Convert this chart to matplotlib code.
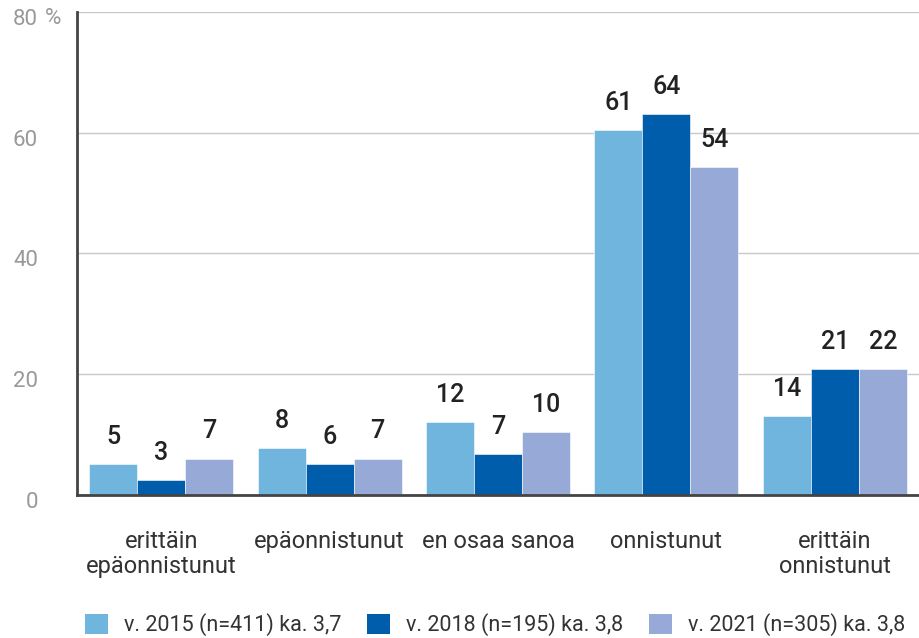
import matplotlib
matplotlib.use("Agg")
import matplotlib.pyplot as plt
import matplotlib.transforms as mtransforms
from matplotlib.patches import Patch
import numpy as np

plt.rcParams["font.family"] = ["Roboto", "DejaVu Sans"]

# ---------------------------------------------------------
# Donnees
# ---------------------------------------------------------
categories = ["erittäin\nepäonnistunut", "epäonnistunut", "en osaa sanoa",
              "onnistunut", "erittäin\nonnistunut"]
series_names = ["v. 2015 (n=411) ka. 3,7", "v. 2018 (n=195) ka. 3,8",
                "v. 2021 (n=305) ka. 3,8"]
# hauteurs des barres
v2015 = [5.1, 7.8, 12.1, 60.4, 13.1]
v2018 = [2.5, 5.1, 6.8, 63.1, 20.9]
v2021 = [6.0, 6.0, 10.4, 54.3, 20.9]
# etiquettes affichees au-dessus des barres
lab2015 = ["5", "8", "12", "61", "14"]
lab2018 = ["3", "6", "7", "64", "21"]
lab2021 = ["7", "7", "10", "54", "22"]
yticks = [0, 20, 40, 60, 80]

colors = ["#6fb5dd", "#005dab", "#97a9d6"]

# ---------------------------------------------------------
# Graphique
# ---------------------------------------------------------
fig = plt.figure(figsize=(9.19, 6.38), dpi=100)
ax = fig.add_axes([77 / 919, 143 / 638, 842 / 919, 483 / 638])

x = np.arange(len(categories))
width = 0.285
series = [v2015, v2018, v2021]
labels = [lab2015, lab2018, lab2021]
for i, (vals, labs) in enumerate(zip(series, labels)):
    pos = x + (i - 1) * width
    ax.bar(pos, vals, width, color=colors[i], edgecolor="white", linewidth=0.4,
           zorder=3)
    for px, v, t in zip(pos, vals, labs):
        ax.annotate(t, (px, v), xytext=(0, 11), textcoords="offset points",
                    ha="center", va="bottom", fontsize=18, color="#222222",
                    fontweight="medium")

ax.set_xlim(-0.5, 4.5)
ax.set_ylim(0, 80)
ax.set_yticks(yticks)
ax.set_yticklabels([str(t) for t in yticks], fontsize=16, color="#999999")
ax.tick_params(axis="y", length=0, pad=28)
offset = mtransforms.ScaledTranslation(0, -5 / 100, fig.dpi_scale_trans)
for lbl in ax.get_yticklabels():
    lbl.set_transform(lbl.get_transform() + offset)
fig.text(45 / 919, 1 - 18 / 638, "%", fontsize=16, color="#999999",
         ha="left", va="center")

ax.set_xticks(x)
ax.set_xticklabels(categories, fontsize=17, color="#333333", linespacing=1.15,
                   va="top")
ax.tick_params(axis="x", length=0, pad=25)

ax.grid(axis="y", color="#c8c8c8", linewidth=1, zorder=0)
ax.set_axisbelow(True)
for s in ["top", "right"]:
    ax.spines[s].set_visible(False)
for s in ["left", "bottom"]:
    ax.spines[s].set_color("#444444")
    ax.spines[s].set_linewidth(2)
    ax.spines[s].set_zorder(4)

handles = [Patch(facecolor=c, edgecolor="none") for c in colors]
fig.legend(handles, series_names, loc="center left",
           bbox_to_anchor=(66 / 919, 1 - 625 / 638), ncol=3, frameon=False,
           fontsize=15.5, handlelength=1.05, handleheight=1.05,
           handletextpad=0.75, columnspacing=1.2, labelcolor="#333333")

plt.savefig("out.png", dpi=100)
plt.close()
